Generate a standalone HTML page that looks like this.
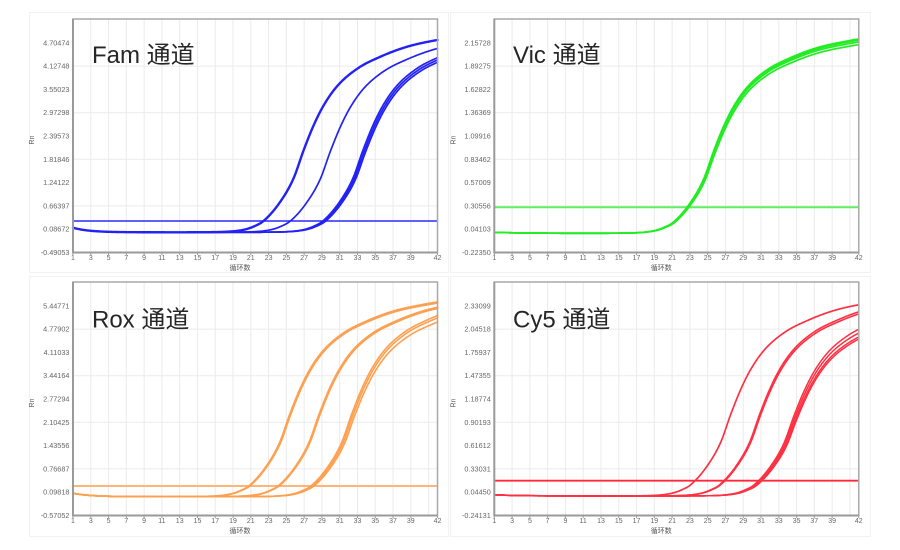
<!DOCTYPE html>
<html><head><meta charset="utf-8">
<style>
html,body{margin:0;padding:0;background:#fff;}
svg{display:block;}
.t{font-family:"Liberation Sans",sans-serif;}
.c{font-family:"Liberation Sans","Noto Sans CJK SC",sans-serif;}
</style></head>
<body>
<svg id="s" width="900" height="550" viewBox="0 0 900 550" xmlns="http://www.w3.org/2000/svg">
<rect x="0" y="0" width="900" height="550" fill="#fff"/>
<g fill="none" stroke="#f2f2f2" stroke-width="1">
<rect x="29.5" y="12.5" width="419" height="260"/>
<rect x="450.5" y="12.5" width="420" height="260"/>
<rect x="29.5" y="276.5" width="419" height="260"/>
<rect x="450.5" y="276.5" width="420" height="260"/>
</g>

<!-- FAM -->
<g transform="translate(73,19)">
<g id="g_fam"></g>
<g class="t" font-size="7.3" fill="#666" text-anchor="end">
<text x="-3.5" y="26.3">4.70474</text><text x="-3.5" y="49.6">4.12748</text><text x="-3.5" y="72.9">3.55023</text><text x="-3.5" y="96.2">2.97298</text><text x="-3.5" y="119.5">2.39573</text><text x="-3.5" y="142.8">1.81846</text><text x="-3.5" y="166.1">1.24122</text><text x="-3.5" y="189.4">0.66397</text><text x="-3.5" y="212.7">0.08672</text><text x="-3.5" y="236">-0.49053</text>
</g>
<g class="t" font-size="7" fill="#666" text-anchor="middle">
<text x="0" y="241">1</text><text x="17.8" y="241">3</text><text x="35.6" y="241">5</text><text x="53.3" y="241">7</text><text x="71.1" y="241">9</text><text x="88.9" y="241">11</text><text x="106.7" y="241">13</text><text x="124.5" y="241">15</text><text x="142.2" y="241">17</text><text x="160" y="241">19</text><text x="177.8" y="241">21</text><text x="195.6" y="241">23</text><text x="213.4" y="241">25</text><text x="231.1" y="241">27</text><text x="248.9" y="241">29</text><text x="266.7" y="241">31</text><text x="284.5" y="241">33</text><text x="302.3" y="241">35</text><text x="320" y="241">37</text><text x="337.8" y="241">39</text><text x="364.5" y="241">42</text>
</g>
<text class="c" x="167" y="251" font-size="7" fill="#555" text-anchor="middle">循环数</text>
<text class="t" x="0" y="0" font-size="7" fill="#555" text-anchor="middle" transform="translate(-39,121) rotate(-90)">Rn</text>
</g>

<!-- VIC -->
<g transform="translate(494.3,19)">
<g id="g_vic"></g>
<g class="t" font-size="7.3" fill="#666" text-anchor="end">
<text x="-3.5" y="26.3">2.15728</text><text x="-3.5" y="49.6">1.89275</text><text x="-3.5" y="72.9">1.62822</text><text x="-3.5" y="96.2">1.36369</text><text x="-3.5" y="119.5">1.09916</text><text x="-3.5" y="142.8">0.83462</text><text x="-3.5" y="166.1">0.57009</text><text x="-3.5" y="189.4">0.30556</text><text x="-3.5" y="212.7">0.04103</text><text x="-3.5" y="236">-0.22350</text>
</g>
<g class="t" font-size="7" fill="#666" text-anchor="middle">
<text x="0" y="241">1</text><text x="17.8" y="241">3</text><text x="35.6" y="241">5</text><text x="53.3" y="241">7</text><text x="71.1" y="241">9</text><text x="88.9" y="241">11</text><text x="106.7" y="241">13</text><text x="124.5" y="241">15</text><text x="142.2" y="241">17</text><text x="160" y="241">19</text><text x="177.8" y="241">21</text><text x="195.6" y="241">23</text><text x="213.4" y="241">25</text><text x="231.1" y="241">27</text><text x="248.9" y="241">29</text><text x="266.7" y="241">31</text><text x="284.5" y="241">33</text><text x="302.3" y="241">35</text><text x="320" y="241">37</text><text x="337.8" y="241">39</text><text x="364.5" y="241">42</text>
</g>
<text class="c" x="167" y="251" font-size="7" fill="#555" text-anchor="middle">循环数</text>
<text class="t" x="0" y="0" font-size="7" fill="#555" text-anchor="middle" transform="translate(-39,121) rotate(-90)">Rn</text>
</g>

<!-- ROX -->
<g transform="translate(73,282)">
<g id="g_rox"></g>
<g class="t" font-size="7.3" fill="#666" text-anchor="end">
<text x="-3.5" y="26.3">5.44771</text><text x="-3.5" y="49.6">4.77902</text><text x="-3.5" y="72.9">4.11033</text><text x="-3.5" y="96.2">3.44164</text><text x="-3.5" y="119.5">2.77294</text><text x="-3.5" y="142.8">2.10425</text><text x="-3.5" y="166.1">1.43556</text><text x="-3.5" y="189.4">0.76687</text><text x="-3.5" y="212.7">0.09818</text><text x="-3.5" y="236">-0.57052</text>
</g>
<g class="t" font-size="7" fill="#666" text-anchor="middle">
<text x="0" y="241">1</text><text x="17.8" y="241">3</text><text x="35.6" y="241">5</text><text x="53.3" y="241">7</text><text x="71.1" y="241">9</text><text x="88.9" y="241">11</text><text x="106.7" y="241">13</text><text x="124.5" y="241">15</text><text x="142.2" y="241">17</text><text x="160" y="241">19</text><text x="177.8" y="241">21</text><text x="195.6" y="241">23</text><text x="213.4" y="241">25</text><text x="231.1" y="241">27</text><text x="248.9" y="241">29</text><text x="266.7" y="241">31</text><text x="284.5" y="241">33</text><text x="302.3" y="241">35</text><text x="320" y="241">37</text><text x="337.8" y="241">39</text><text x="364.5" y="241">42</text>
</g>
<text class="c" x="167" y="251" font-size="7" fill="#555" text-anchor="middle">循环数</text>
<text class="t" x="0" y="0" font-size="7" fill="#555" text-anchor="middle" transform="translate(-39,121) rotate(-90)">Rn</text>
</g>

<!-- CY5 -->
<g transform="translate(494.3,282)">
<g id="g_cy5"></g>
<g class="t" font-size="7.3" fill="#666" text-anchor="end">
<text x="-3.5" y="26.3">2.33099</text><text x="-3.5" y="49.6">2.04518</text><text x="-3.5" y="72.9">1.75937</text><text x="-3.5" y="96.2">1.47355</text><text x="-3.5" y="119.5">1.18774</text><text x="-3.5" y="142.8">0.90193</text><text x="-3.5" y="166.1">0.61612</text><text x="-3.5" y="189.4">0.33031</text><text x="-3.5" y="212.7">0.04450</text><text x="-3.5" y="236">-0.24131</text>
</g>
<g class="t" font-size="7" fill="#666" text-anchor="middle">
<text x="0" y="241">1</text><text x="17.8" y="241">3</text><text x="35.6" y="241">5</text><text x="53.3" y="241">7</text><text x="71.1" y="241">9</text><text x="88.9" y="241">11</text><text x="106.7" y="241">13</text><text x="124.5" y="241">15</text><text x="142.2" y="241">17</text><text x="160" y="241">19</text><text x="177.8" y="241">21</text><text x="195.6" y="241">23</text><text x="213.4" y="241">25</text><text x="231.1" y="241">27</text><text x="248.9" y="241">29</text><text x="266.7" y="241">31</text><text x="284.5" y="241">33</text><text x="302.3" y="241">35</text><text x="320" y="241">37</text><text x="337.8" y="241">39</text><text x="364.5" y="241">42</text>
</g>
<text class="c" x="167" y="251" font-size="7" fill="#555" text-anchor="middle">循环数</text>
<text class="t" x="0" y="0" font-size="7" fill="#555" text-anchor="middle" transform="translate(-39,121) rotate(-90)">Rn</text>
</g>

<!-- Titles -->
<g class="c" font-size="24" fill="#262626">
<text x="92" y="63">Fam 通道</text>
<text x="513" y="63">Vic 通道</text>
<text x="92" y="327.5">Rox 通道</text>
<text x="513" y="327.5">Cy5 通道</text>
</g>
</svg>

<script>
(function(){
var NS="http://www.w3.org/2000/svg";
var W=364.5,H=233.5;
var SU=[-10,-8,-6,-5,-4,-3,-2,-1,0,1.89,3.38,4.51,5.64,6.77,8.27,10.53,13.15,16.16,19.54,23,27,32];
var SH=[0,0.05,0.15,0.3,0.65,1.4,3,6.2,11.3,30.6,54,82,107,127,146,163.5,175.6,185.6,192.3,197,200,202];
var n=SU.length,d=[],m=[];
for(var k=0;k<n-1;k++)d[k]=(SH[k+1]-SH[k])/(SU[k+1]-SU[k]);
m[0]=d[0];m[n-1]=d[n-2];
for(k=1;k<n-1;k++)m[k]=(d[k-1]*d[k]<=0)?0:(d[k-1]+d[k])/2;
for(k=0;k<n-1;k++){
 if(d[k]===0){m[k]=0;m[k+1]=0;continue;}
 var a=m[k]/d[k],b=m[k+1]/d[k],s=a*a+b*b;
 if(s>9){var t=3/Math.sqrt(s);m[k]=t*a*d[k];m[k+1]=t*b*d[k];}
}
function S(u){
 if(u<=SU[0])return 0;
 if(u>=SU[n-1])return SH[n-1];
 var i=0;while(SU[i+1]<u)i++;
 var h=SU[i+1]-SU[i],t=(u-SU[i])/h,t2=t*t,t3=t2*t;
 return (2*t3-3*t2+1)*SH[i]+(t3-2*t2+t)*h*m[i]+(-2*t3+3*t2)*SH[i+1]+(t3-t2)*h*m[i+1];
}
function el(tag,attrs,parent){var e=document.createElementNS(NS,tag);for(var a in attrs)e.setAttribute(a,attrs[a]);parent.appendChild(e);return e;}
function X(c){return (c-1)*W/41;}
var P=[
 {id:"g_fam",base:213.3,thr:202,dr:[4.6,1.8],col:"#2222f6",tcol:"#2a2aff",tw:1.5,
  cv:[[22.43,1,2.4],[25.43,0.985,1.7],[29.1,1,1.7],[29.25,0.99,1.7],[29.4,0.98,1.7]]},
 {id:"g_vic",base:214.3,thr:188.3,dr:[1,3],col:"#22ec22",tcol:"#5ef05e",tw:2,
  cv:[[21.15,1,1.7],[21.25,0.995,1.7],[21.3,0.972,1.7],[21.2,0.985,1.7]]},
 {id:"g_rox",base:214.7,thr:204,dr:[3.4,2],col:"#ffa050",tcol:"#ffb577",tw:2,
  cv:[[20.85,1,1.7],[20.95,0.995,1.7],[24.15,1.0,1.7],[24.25,0.995,1.7],[27.85,1.01,1.6],[28.0,1.0,1.6],[28.15,0.98,1.6]]},
 {id:"g_cy5",base:214,thr:198.7,dr:[1.2,3],col:"#ff3042",tcol:"#ff2a3c",tw:1.8,
  cv:[[23.1,1,1.7],[26.35,1,1.6],[26.45,0.99,1.6],[30.2,0.98,1.5],[30.3,0.96,1.5],[30.4,0.94,1.5],[30.5,0.93,1.5]]}
];
P.forEach(function(p){
 var g=document.getElementById(p.id);
 var gg=el("g",{stroke:"#ebebeb","stroke-width":"1",fill:"none"},g);
 for(var c=3;c<=41;c+=2){var x=X(c).toFixed(2);el("line",{x1:x,y1:0,x2:x,y2:H},gg);}
 [47.1,93.7,140.3,186.9].forEach(function(y){el("line",{x1:0,y1:y,x2:W,y2:y},gg);});
 var tg=el("g",{stroke:"#9a9a9a","stroke-width":"1"},g);
 for(c=1;c<=39;c+=2){var xx=X(c).toFixed(2);el("line",{x1:xx,y1:H,x2:xx,y2:H+2.5},tg);}
 el("line",{x1:W,y1:H,x2:W,y2:H+2.5},tg);
 el("line",{x1:0,y1:p.thr,x2:W,y2:p.thr,stroke:p.tcol,"stroke-width":p.tw},g);
 p.cv.forEach(function(cv){
  var dstr="";
  for(var c=1;c<=42.0001;c+=0.1){
   var y=p.base-p.dr[0]*Math.exp(-(c-1)/p.dr[1])-cv[1]*S(c-cv[0]);
   dstr+=(c===1?"M":"L")+X(c).toFixed(2)+","+y.toFixed(2);
  }
  el("path",{d:dstr,fill:"none",stroke:p.col,"stroke-width":cv[2],"stroke-linejoin":"round","stroke-linecap":"round"},g);
 });
 el("rect",{x:0,y:0,width:W,height:H,fill:"none",stroke:"#a8a8a8","stroke-width":"1.5"},g);
 el("line",{x1:0,y1:0,x2:0,y2:H+0.7,stroke:"#9a9a9a","stroke-width":"2"},g);
 el("line",{x1:-0.7,y1:H,x2:W,y2:H,stroke:"#9a9a9a","stroke-width":"2"},g);
});
})();
</script>
</body></html>
